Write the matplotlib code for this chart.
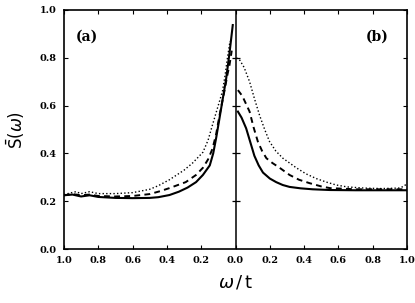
import matplotlib
matplotlib.use("Agg")
import matplotlib.pyplot as plt

# ---- data (omega < 0 is panel (a), omega > 0 panel (b))
W_SOLID_L = [-1.0, -0.95, -0.9, -0.85, -0.8, -0.7, -0.6, -0.5, -0.45, -0.385, -0.33,
             -0.28, -0.23, -0.19, -0.15, -0.13, -0.113, -0.095, -0.074, -0.055, -0.035, -0.016]
S_SOLID_L = [0.225, 0.228, 0.22, 0.225, 0.218, 0.214, 0.213, 0.214, 0.217, 0.226, 0.24,
             0.257, 0.28, 0.31, 0.35, 0.40, 0.464, 0.54, 0.63, 0.71, 0.82, 0.937]

W_DASH_L = [-1.0, -0.95, -0.9, -0.85, -0.8, -0.7, -0.6, -0.5, -0.44, -0.385, -0.29,
            -0.23, -0.19, -0.16, -0.134, -0.113, -0.093, -0.065, -0.047, -0.035, -0.022]
S_DASH_L = [0.225, 0.23, 0.225, 0.228, 0.222, 0.22, 0.222, 0.23, 0.242, 0.255, 0.28,
            0.31, 0.34, 0.375, 0.42, 0.48, 0.56, 0.66, 0.73, 0.77, 0.83]

W_DOT_L = [-1.0, -0.96, -0.93, -0.9, -0.85, -0.8, -0.7, -0.6, -0.5, -0.45, -0.385,
           -0.3, -0.25, -0.19, -0.16, -0.134, -0.105, -0.076, -0.06, -0.047, -0.032]
S_DOT_L = [0.228, 0.235, 0.24, 0.232, 0.24, 0.232, 0.232, 0.236, 0.25, 0.265, 0.29,
           0.33, 0.36, 0.405, 0.455, 0.52, 0.59, 0.66, 0.73, 0.80, 0.87]

W_SOLID_R = [0.014, 0.035, 0.062, 0.085, 0.11, 0.135, 0.16, 0.2, 0.237, 0.275, 0.315,
             0.38, 0.45, 0.55, 0.7, 0.85, 1.0]
S_SOLID_R = [0.575, 0.55, 0.505, 0.45, 0.39, 0.35, 0.32, 0.295, 0.28, 0.268, 0.26,
             0.254, 0.25, 0.247, 0.246, 0.246, 0.246]

W_DASH_R = [0.014, 0.04, 0.082, 0.105, 0.13, 0.155, 0.18, 0.215, 0.257, 0.315, 0.37,
            0.43, 0.5, 0.55, 0.7, 0.85, 1.0]
S_DASH_R = [0.665, 0.64, 0.575, 0.51, 0.45, 0.41, 0.38, 0.36, 0.34, 0.31, 0.29,
            0.276, 0.262, 0.255, 0.25, 0.25, 0.25]

W_DOT_R = [0.005, 0.025, 0.05, 0.082, 0.11, 0.14, 0.17, 0.198, 0.235, 0.276, 0.315,
           0.354, 0.41, 0.47, 0.53, 0.587, 0.65, 0.75, 0.85, 0.95, 0.98, 1.0]
S_DOT_R = [0.80, 0.79, 0.76, 0.70, 0.63, 0.56, 0.50, 0.45, 0.41, 0.38, 0.36,
           0.34, 0.315, 0.295, 0.28, 0.268, 0.26, 0.255, 0.253, 0.255, 0.262, 0.275]

X_TICKS = [-1.0, -0.8, -0.6, -0.4, -0.2, 0.0, 0.2, 0.4, 0.6, 0.8, 1.0]
Y_TICKS = [0.0, 0.2, 0.4, 0.6, 0.8, 1.0]

SERIF = ["DejaVu Serif"]

fig = plt.figure(figsize=(4.15, 3.03), dpi=100)
ax = fig.add_axes([0.154, 0.178, 0.827, 0.789])

solid = dict(color="black", lw=1.5, ls="-")
dash = dict(color="black", lw=1.4, ls=(0, (3.0, 2.2)))
dot = dict(color="black", lw=1.0, ls=(0, (1.0, 1.6)))

ax.plot(W_SOLID_L, S_SOLID_L, **solid)
ax.plot(W_DASH_L, S_DASH_L, **dash)
ax.plot(W_DOT_L, S_DOT_L, **dot)
ax.plot(W_SOLID_R, S_SOLID_R, **solid)
ax.plot(W_DASH_R, S_DASH_R, **dash)
ax.plot(W_DOT_R, S_DOT_R, **dot)

# central axis with its own small ticks
ax.axvline(0.0, color="black", lw=1.1)
ax.plot([0.0] * (len(Y_TICKS) - 2), Y_TICKS[1:-1], ls="none", marker="_",
        ms=6, mew=0.9, color="black")

ax.set_xlim(-1.0, 1.0)
ax.set_ylim(0.0, 1.0)
ax.set_xticks(X_TICKS)
ax.set_xticklabels([f"{abs(v):.1f}" for v in X_TICKS])
ax.set_yticks(Y_TICKS)
ax.set_yticklabels([f"{v:.1f}" for v in Y_TICKS])
ax.tick_params(direction="in", length=3, width=0.8, top=True, right=True,
               labelsize=7, pad=5)
for lab in ax.get_xticklabels() + ax.get_yticklabels():
    lab.set_family(SERIF)
    lab.set_fontweight("bold")
for sp in ax.spines.values():
    sp.set_linewidth(1.2)

ax.text(0.035, 0.87, "(a)", transform=ax.transAxes, family=SERIF,
        fontweight="bold", fontsize=10)
ax.text(0.88, 0.87, "(b)", transform=ax.transAxes, family=SERIF,
        fontweight="bold", fontsize=10)

ax.set_xlabel(r"$\omega\,/\,\mathsf{t}$", fontsize=13, labelpad=6)
ax.set_ylabel(r"$\bar{\mathsf{S}}(\omega)$", fontsize=12, labelpad=9)

fig.savefig("out.png", dpi=100)
